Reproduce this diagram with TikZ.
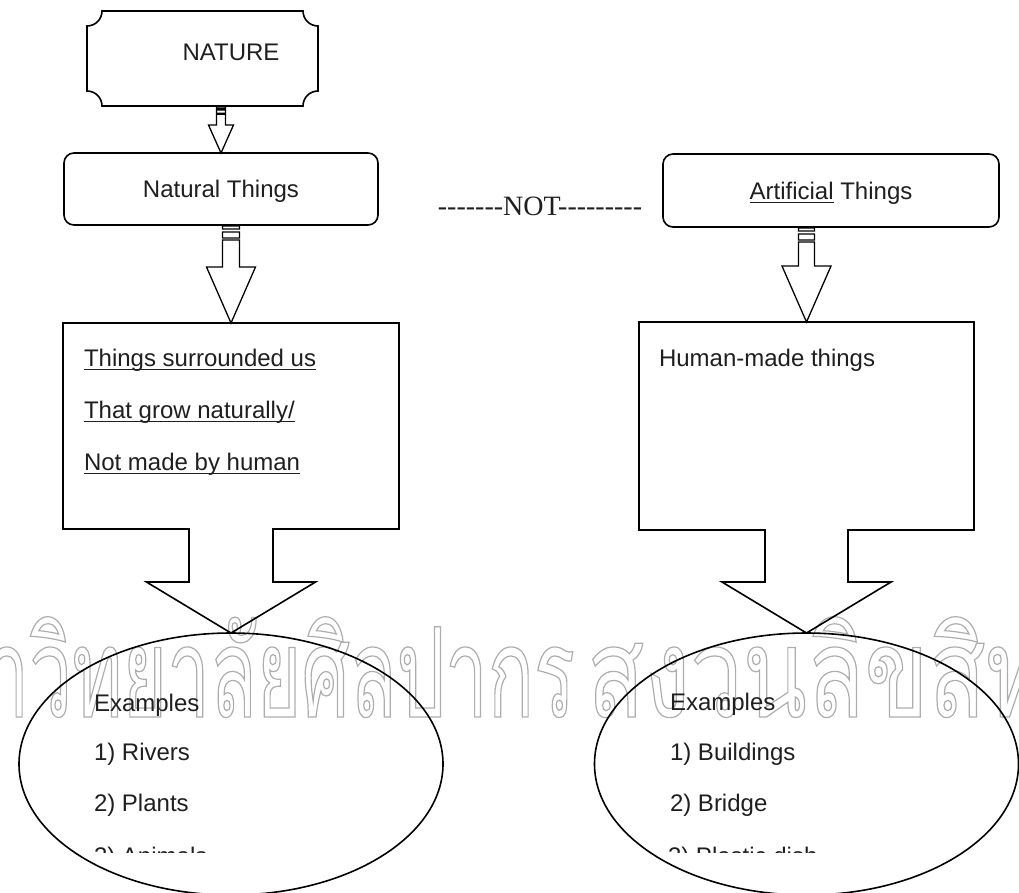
\documentclass[tikz,border=0pt]{standalone}
\usepackage{fontspec}
\setmainfont{Liberation Sans}
\newfontfamily\notserif{Liberation Serif}
\newfontfamily\thaifont[Script=Thai, FakeStretch=0.61]{Loma}
\newfontfamily\thaiwide[Script=Thai, FakeStretch=0.75]{Loma}
\usetikzlibrary{shapes.geometric,calc}
\newsavebox\ulbox
\newcommand\myul[1]{\sbox\ulbox{#1}\rlap{\rule[-3.5pt]{\wd\ulbox}{1pt}}\usebox\ulbox}
\tikzset{
  boxline/.style={draw=black, line width=1.6pt, line join=miter},
  blockline/.style={draw=black, line width=1.3pt, line join=miter},
  txt/.style={font=\fontsize{24}{24}\selectfont, text=black!88, inner sep=0pt, outer sep=0pt, text height=17pt, text depth=0pt},
  ltxt/.style={txt, anchor=west},
  wm/.style={text=black!30, inner sep=0pt},
  area/.style={inner sep=0pt, outer sep=0pt},
}
\newcommand\hy{-\kern0pt}
% from, to, stem half width, head half width, head length, stripe scale
\newcommand\stripedarrow[6]{%
  \draw[blockline] let \p1=(#1), \p2=(#2) in
    (\x2-#3pt,\y1-1*#6pt) rectangle (\x2+#3pt,\y1-4*#6pt)
    (\x2-#3pt,\y1-7*#6pt) rectangle (\x2+#3pt,\y1-13*#6pt)
    (\x2-#3pt,\y1-15*#6pt) -- (\x2-#3pt,\y2+#5pt) -- (\x2-#4pt,\y2+#5pt)
    -- (\x2,\y2) -- (\x2+#4pt,\y2+#5pt) -- (\x2+#3pt,\y2+#5pt)
    -- (\x2+#3pt,\y1-15*#6pt) -- cycle;}
\begin{document}
\begin{tikzpicture}[x=1pt,y=-1pt]
\clip (0,0) rectangle (1019,892);

% watermark
\node[wm, font=\thaifont\fontsize{125}{125}\selectfont, anchor=base east] (wm1) at (575,717) {\special{pdf:code q 1 Tr 1.2 w 0.68 G}มหาวิทยาลัยศิลปากร\special{pdf:code Q}};
\node[wm, font=\thaiwide\fontsize{125}{125}\selectfont, anchor=base west] (wm2) at (587,717) {\special{pdf:code q 1 Tr 1.2 w 0.68 G}สงวนลิขสิทธิ์\special{pdf:code Q}};

% NATURE plaque
\node[area, minimum width=231pt, minimum height=95pt] (nature) at (202.5,58.5) {};
\draw[boxline] (87,26) .. controls (95.28,26) and (102,19.28) .. (102,11)
  -- (303,11) .. controls (303,19.28) and (309.72,26) .. (318,26)
  -- (318,91) .. controls (309.72,91) and (303,97.72) .. (303,106)
  -- (102,106) .. controls (102,97.72) and (95.28,91) .. (87,91) -- cycle;
\node[txt] (naturetext) at (231,52) {NATURE};

% rounded boxes
\node[txt, boxline, rounded corners=10pt, minimum width=314pt, minimum height=72pt] (natural) at (221,189) {Natural Things};
\node[txt, boxline, rounded corners=10pt, minimum width=336pt, minimum height=73pt] (artificial) at (831,190.5) {\myul{Artificial} Things};
\node[font=\notserif\fontsize{28}{28}\selectfont, text=black!88, inner sep=0pt] (notlabel) at (540,206) {\hy\hy\hy\hy\hy\hy\hy NOT\hy\hy\hy\hy\hy\hy\hy\hy\hy};

% box areas and ellipses
\node[area, minimum width=336pt, minimum height=206pt] (leftbox) at (231,426) {};
\node[area, minimum width=335pt, minimum height=208pt] (rightbox) at (806.5,426) {};
\node[ellipse, boxline, area, minimum width=424pt, minimum height=262pt] (leftell) at (231,764) {};
\node[ellipse, boxline, area, minimum width=424pt, minimum height=262pt] (rightell) at (806.5,764) {};

% striped arrows
\stripedarrow{nature.south}{natural.north}{4.5}{12.5}{28}{0.55}
\stripedarrow{natural.south}{leftbox.north}{8.5}{24.5}{56}{1}
\stripedarrow{artificial.south}{rightbox.north}{8}{24.5}{56}{1}

% callout boxes with down arrows
\draw[boxline] (leftbox.north west) -- (leftbox.north east) -- (leftbox.south east)
  -- ($(leftbox.south)+(42,0)$) -- ($(leftbox.south)+(42,53)$) -- ($(leftbox.south)+(84.5,53)$)
  -- (leftell.north)
  -- ($(leftbox.south)+(-84.5,53)$) -- ($(leftbox.south)+(-42,53)$) -- ($(leftbox.south)+(-42,0)$)
  -- (leftbox.south west) -- cycle;
\draw[boxline] (rightbox.north west) -- (rightbox.north east) -- (rightbox.south east)
  -- ($(rightbox.south)+(41.5,0)$) -- ($(rightbox.south)+(41.5,52)$) -- ($(rightbox.south)+(84.5,52)$)
  -- (rightell.north)
  -- ($(rightbox.south)+(-84.5,52)$) -- ($(rightbox.south)+(-41.5,52)$) -- ($(rightbox.south)+(-41.5,0)$)
  -- (rightbox.south west) -- cycle;

% box texts
\node[ltxt] (lt1) at (84,358) {\myul{Things surrounded us}};
\node[ltxt] (lt2) at (84,410) {\myul{That grow naturally/}};
\node[ltxt] (lt3) at (84,462) {\myul{Not made by human}};
\node[ltxt] (rt1) at (659,358) {Human-made things};

% ellipse texts
\node[ltxt] (lex) at (94,703) {Examples};
\node[ltxt] (l1) at (94,752) {1) Rivers};
\node[ltxt] (l2) at (94,803) {2) Plants};
\node[ltxt] (rex) at (670,702) {Examples};
\node[ltxt] (r1) at (670,752) {1) Buildings};
\node[ltxt] (r2) at (670,803) {2) Bridge};
\begin{scope}
  \clip (0,0) rectangle (1019,852);
  \node[ltxt] (l3) at (94,856) {3) Animals};
  \node[ltxt] (r3) at (668,856) {3) Plastic dish};
\end{scope}
\end{tikzpicture}
\end{document}
